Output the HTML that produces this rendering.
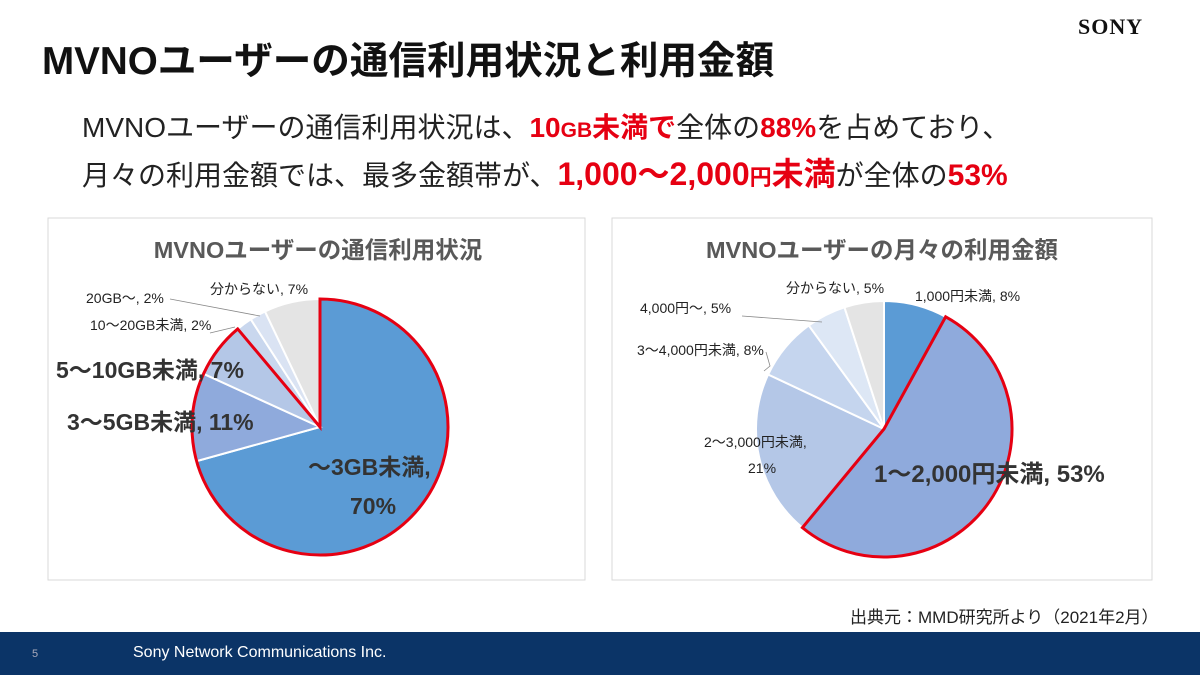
<!DOCTYPE html>
<html><head><meta charset="utf-8">
<style>
body{margin:0;width:1200px;height:675px;position:relative;background:#fff;font-family:"Liberation Sans","Noto Sans CJK JP",sans-serif;overflow:hidden}
.abs{position:absolute;white-space:nowrap}
</style></head>
<body>
<div class="abs" style="left:42px;top:30px;font-size:38.6px;font-weight:bold;color:#111">MVNOユーザーの通信利用状況と利用金額</div>
<div class="abs" style="left:1078px;top:14px;font-family:'Liberation Serif',serif;font-weight:bold;font-size:22px;letter-spacing:1px;color:#111">SONY</div>
<div class="abs" style="left:82px;top:106px;font-size:28px;color:#222">MVNOユーザーの通信利用状況は、<b style="color:#e60012">10<span style="font-size:21px">GB</span>未満で</b>全体の<b style="color:#e60012">88%</b>を占めており、</div>
<div class="abs" style="left:82px;top:149px;font-size:28px;color:#222">月々の利用金額では、最多金額帯が、<b style="color:#e60012;font-size:32px">1,000～2,000<span style="font-size:22px">円</span>未満</b>が全体の<b style="color:#e60012;font-size:30px">53%</b></div>

<svg id="charts" class="abs" style="left:0;top:0" width="1200" height="675">
<rect x="48" y="218" width="537" height="362" fill="#fff" stroke="#d9d9d9"/>
<rect x="612" y="218" width="540" height="362" fill="#fff" stroke="#d9d9d9"/>
<text x="318" y="258" text-anchor="middle" font-size="23.5" font-weight="bold" fill="#595959">MVNOユーザーの通信利用状況</text>
<text x="882" y="258" text-anchor="middle" font-size="23.5" font-weight="bold" fill="#595959">MVNOユーザーの月々の利用金額</text>
<g id="left"></g><g id="right"></g>
<g font-size="14" fill="#222">
<text x="86" y="303">20GB～, 2%</text>
<text x="210" y="294">分からない, 7%</text>
<text x="90" y="330">10～20GB未満, 2%</text>
<text x="915" y="301">1,000円未満, 8%</text>
<text x="786" y="293">分からない, 5%</text>
<text x="640" y="313">4,000円～, 5%</text>
<text x="637" y="355">3～4,000円未満, 8%</text>
<text x="704" y="447">2～3,000円未満,</text>
<text x="748" y="473">21%</text>
</g>
<g font-size="23" font-weight="bold" fill="#333">
<text x="56" y="378">5～10GB未満, 7%</text>
<text x="67" y="430">3～5GB未満, 11%</text>
<text x="308" y="475">～3GB未満,</text>
<text x="350" y="514">70%</text>
<text x="874" y="482" font-size="24">1～2,000円未満, 53%</text>
</g>
<g stroke="#888" stroke-width="0.8" fill="none">
<polyline points="170,299 260,316"/>
<polyline points="210,333 235,327"/>
<polyline points="742,316 822,322"/>
<polyline points="766,352 770,366 764,371"/>
</g>
</svg>

<div class="abs" style="left:850px;top:603px;font-size:17px;color:#222">出典元：MMD研究所より（2021年2月）</div>
<div class="abs" style="left:0;top:632px;width:1200px;height:43px;background:#0b3467"></div>
<div class="abs" style="left:32px;top:648px;font-size:11px;color:#aab">5</div>
<div class="abs" style="left:133px;top:644px;font-size:16px;color:#fff">Sony Network Communications Inc.</div>

<script>
const leftCategories=["～3GB未満","3～5GB未満","5～10GB未満","10～20GB未満","20GB～","分からない"];
const leftValues=[70,11,7,2,2,7];
const leftColors=["#5b9bd5","#8faadc","#b4c7e7","#c9d7ee","#dae3f3","#e4e4e4"];
const leftHighlight=[0,1,2];
const rightCategories=["1,000円未満","1～2,000円未満","2～3,000円未満","3～4,000円未満","4,000円～","分からない"];
const rightValues=[8,53,21,8,5,5];
const rightColors=["#5b9bd5","#8faadc","#b4c7e7","#c5d5ee","#dde7f5","#e4e4e4"];
const rightHighlight=[1];
const NS="http://www.w3.org/2000/svg";
function pt(cx,cy,r,f){const a=f*2*Math.PI-Math.PI/2;return [cx+r*Math.cos(a),cy+r*Math.sin(a)];}
function arcPath(cx,cy,r,f0,f1){const p0=pt(cx,cy,r,f0),p1=pt(cx,cy,r,f1);const lg=(f1-f0)>0.5?1:0;
return `M${cx},${cy}L${p0[0]},${p0[1]}A${r},${r} 0 ${lg} 1 ${p1[0]},${p1[1]}Z`;}
function pie(gid,cx,cy,r,cats,vals,cols,hl,prefix){
 const g=document.getElementById(gid);const tot=vals.reduce((a,b)=>a+b,0);let c=0;const fr=[];
 vals.forEach((v,i)=>{const f0=c/tot;c+=v;const f1=c/tot;fr.push([f0,f1]);
  const p=document.createElementNS(NS,"path");p.setAttribute("d",arcPath(cx,cy,r,f0,f1));
  p.setAttribute("fill",cols[i]);p.setAttribute("stroke","#fff");p.setAttribute("stroke-width","2");
  
  
  g.appendChild(p);});
 const f0=fr[hl[0]][0],f1=fr[hl[hl.length-1]][1];
 const o=document.createElementNS(NS,"path");o.setAttribute("d",arcPath(cx,cy,r,f0,f1));
 o.setAttribute("fill","none");o.setAttribute("stroke","#e60012");o.setAttribute("stroke-width","3");
 
 
 g.appendChild(o);
}
pie("left",320,427,128,leftCategories,leftValues,leftColors,leftHighlight,"left");
pie("right",884,429,128,rightCategories,rightValues,rightColors,rightHighlight,"right");
</script>
</body></html>
